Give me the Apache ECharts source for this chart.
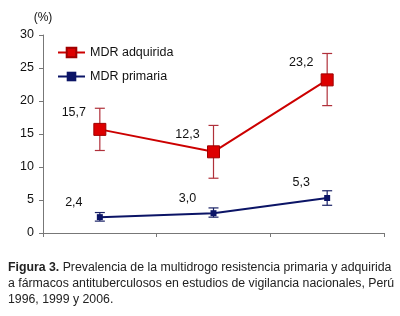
<!DOCTYPE html>
<html>
<head>
<meta charset="utf-8">
<script src="https://cdn.jsdelivr.net/npm/echarts@6/dist/echarts.min.js"></script>
<style>
  html, body { margin: 0; padding: 0; background: #fff; }
  #chart { width: 400px; height: 316px; }
</style>
</head>
<body>
<div id="chart"></div>
<script>
  var years = ['1996', '1999', '2006'];
  var adquirida = [15.7, 12.3, 23.2];
  var adquiridaLow = [12.5, 8.3, 19.3];
  var adquiridaHigh = [18.9, 16.3, 27.2];
  var primaria = [2.4, 3.0, 5.3];
  var primariaLow = [1.8, 2.4, 4.2];
  var primariaHigh = [3.1, 3.8, 6.4];
  var yTicks = [0, 5, 10, 15, 20, 25, 30];

  var myChart = echarts.init(document.getElementById('chart'));

  function fmt(v) {
    return v.toFixed(1).replace('.', ',');
  }

  // barras de error (custom)
  function errorBars(low, high) {
    return low.map(function (l, i) { return [i, l, high[i]]; });
  }
  function renderError(color) {
    return function (params, api) {
      var x = api.value(0);
      var top = api.coord([x, api.value(2)]);
      var bot = api.coord([x, api.value(1)]);
      var w = 5;
      var st = { stroke: color, lineWidth: 1.2 };
      return {
        type: 'group',
        children: [
          { type: 'line', shape: { x1: top[0], y1: top[1], x2: bot[0], y2: bot[1] }, style: st },
          { type: 'line', shape: { x1: top[0] - w, y1: top[1], x2: top[0] + w, y2: top[1] }, style: st },
          { type: 'line', shape: { x1: bot[0] - w, y1: bot[1], x2: bot[0] + w, y2: bot[1] }, style: st }
        ]
      };
    };
  }

  var option = {
    animation: false,
    textStyle: { fontFamily: 'Liberation Sans, Arial, sans-serif' },
    grid: { left: 43, right: 16, top: 35, bottom: 83 },
    legend: {
      orient: 'vertical',
      left: 52,
      top: 41,
      itemGap: 11,
      itemWidth: 27,
      itemHeight: 12,
      textStyle: { fontSize: 12.5, color: '#111' },
      data: ['MDR adquirida', 'MDR primaria']
    },
    xAxis: {
      type: 'category',
      data: years,
      axisLine: { lineStyle: { color: '#777' } },
      axisTick: { show: true, length: 4, lineStyle: { color: '#777' } },
      axisLabel: { show: false }
    },
    yAxis: {
      type: 'value',
      min: 0,
      max: 30,
      interval: 5,
      name: '(%)',
      nameLocation: 'end',
      nameGap: 11,
      nameTextStyle: { color: '#111', fontSize: 12, align: 'center' },
      axisLine: { show: true, lineStyle: { color: '#777' } },
      axisTick: { show: true, inside: false, length: 4, lineStyle: { color: '#777' } },
      axisLabel: {
        color: '#111', fontSize: 12.5, margin: 9,
        formatter: function (v) { return yTicks.indexOf(v) >= 0 ? String(v) : ''; }
      },
      splitLine: { show: false }
    },
    series: [
      {
        name: 'MDR adquirida',
        type: 'line',
        data: adquirida,
        symbol: 'rect',
        symbolSize: 12,
        z: 5,
        itemStyle: { color: '#dd0000', borderColor: '#a00000', borderWidth: 1 },
        lineStyle: { color: '#cc0000', width: 2 },
        label: {
          show: true,
          position: 'inside',
          offset: [-26, -17],
          color: '#111',
          fontSize: 12.5,
          formatter: function (p) { return fmt(p.value); }
        }
      },
      {
        name: 'MDR primaria',
        type: 'line',
        data: primaria,
        symbol: 'rect',
        symbolSize: 6,
        z: 5,
        itemStyle: { color: '#0b1466' },
        lineStyle: { color: '#0b1466', width: 2 },
        label: {
          show: true,
          position: 'inside',
          offset: [-26, -15],
          color: '#111',
          fontSize: 12.5,
          formatter: function (p) { return fmt(p.value); }
        }
      },
      {
        type: 'custom',
        name: 'err1',
        data: errorBars(adquiridaLow, adquiridaHigh),
        renderItem: renderError('#b0303a'),
        z: 3
      },
      {
        type: 'custom',
        name: 'err2',
        data: errorBars(primariaLow, primariaHigh),
        renderItem: renderError('#1a2266'),
        z: 3
      }
    ],
    graphic: [
      {
        type: 'text',
        left: 8,
        top: 260,
        style: {
          text: '{b|Figura 3.} Prevalencia de la multidrogo resistencia primaria y adquirida\na fármacos antituberculosos en estudios de vigilancia nacionales, Perú\n1996, 1999 y 2006.',
          font: '12.3px "Liberation Sans", Arial, sans-serif',
          fill: '#222',
          lineHeight: 16,
          rich: {
            b: { fontWeight: 'bold', fontSize: 12.3, fill: '#222', fontFamily: 'Liberation Sans, Arial, sans-serif' }
          }
        }
      }
    ]
  };

  myChart.setOption(option);
</script>
</body>
</html>
